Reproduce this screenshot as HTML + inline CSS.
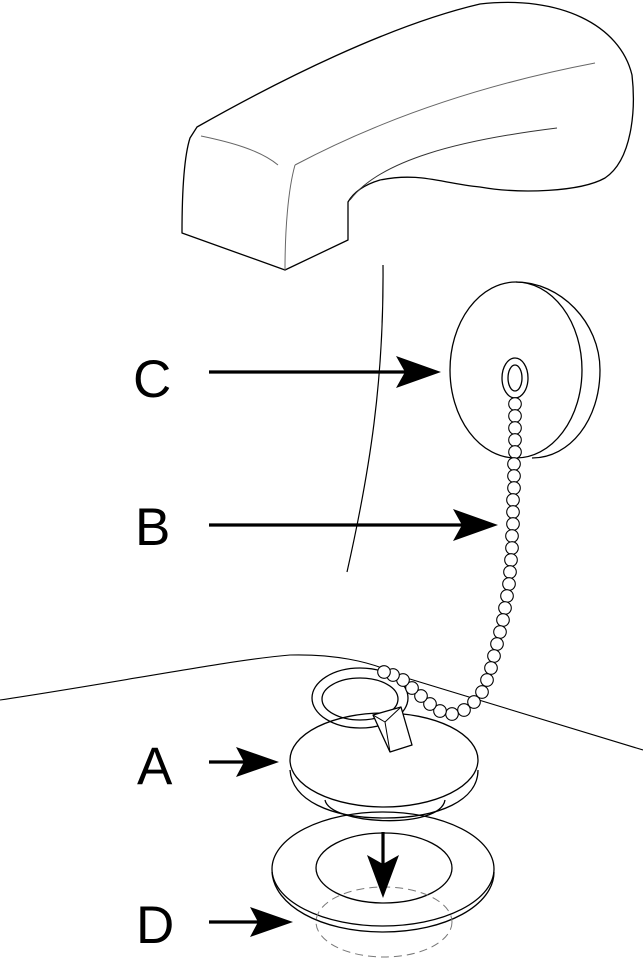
<!DOCTYPE html>
<html><head><style>
html,body{margin:0;padding:0;background:#fff;}
svg{display:block;}
text{font-family:"Liberation Sans",sans-serif;font-size:53px;fill:#000;}
</style></head><body>
<svg width="643" height="960" viewBox="0 0 643 960" xmlns="http://www.w3.org/2000/svg">
<g fill="none" stroke="#000" stroke-width="1.3" stroke-linejoin="round">
<!-- spout -->
<path d="M197,127 C280,80 390,25 480,4 C560,-5 620,25 632,75 C636,110 632,160 605,178 C580,192 520,194 480,187 C440,183 420,172 380,180 C360,186 352,195 348,202 L348,240 L285,270 L182,233 C182,200 183,160 190,138 Z"/>
<path d="M295,165 C288,190 285,230 285,270" stroke="#666" stroke-width="1"/>
<path d="M201,136 C230,142 260,150 278,165" stroke="#666" stroke-width="1"/>
<path d="M295,165 C380,120 480,85 595,63" stroke="#666" stroke-width="1"/>
<path d="M350,200 C380,160 460,140 557,128" stroke="#333" stroke-width="1"/>
<!-- wall -->
<path d="M383,265 C384,380 370,470 347,572" stroke-width="1.2"/>
<!-- basin edge -->
<path d="M0,700 C120,682 230,660 290,655 C330,654 370,660 400,676 L643,750" stroke-width="1.1"/>
<!-- cap C -->
<path d="M516,282 C560,282 600,322 600,370 C600,420 570,458 532,458" />
<ellipse cx="516" cy="370" rx="66" ry="88"/>
<ellipse cx="515" cy="378" rx="13" ry="20"/>
<ellipse cx="515" cy="378" rx="7" ry="13"/>
<!-- stopper -->
<path d="M325,800 C330,825 440,830 445,800"/>
<path d="M290,770 C292,800 330,818 384,818 C440,818 478,800 478,770"/>
<ellipse cx="384" cy="760" rx="94" ry="47" fill="#fff"/>
<ellipse cx="360" cy="698" rx="48" ry="30"/>
<ellipse cx="360" cy="699" rx="38" ry="21"/>
<path d="M373,715 L401,707 L412,745 L390,752 Z" fill="#fff"/>
<path d="M373,715 L385,722 L401,707 M385,722 L390,752" stroke-width="1"/>
<!-- flange D -->
<path d="M272,872 C274,905 320,932 383,932 C446,932 494,905 494,872"/>
<ellipse cx="383" cy="869" rx="111" ry="57"/>
<ellipse cx="384" cy="868" rx="68" ry="35"/>
<ellipse cx="384" cy="922" rx="68" ry="35" stroke="#777" stroke-dasharray="8,5" stroke-width="1"/>
<!-- chain -->
<g fill="#fff" stroke-width="1.1">
<circle cx="515" cy="404" r="6.3"/><circle cx="515" cy="416" r="6.3"/><circle cx="515" cy="428" r="6.3"/><circle cx="515" cy="440" r="6.3"/><circle cx="515" cy="452" r="6.3"/><circle cx="514" cy="464" r="6.3"/><circle cx="514" cy="476" r="6.3"/><circle cx="514" cy="488" r="6.3"/><circle cx="513" cy="500" r="6.3"/><circle cx="513" cy="512" r="6.3"/><circle cx="513" cy="524" r="6.3"/><circle cx="512" cy="536" r="6.3"/><circle cx="512" cy="548" r="6.3"/><circle cx="511" cy="560" r="6.3"/><circle cx="510" cy="572" r="6.3"/><circle cx="509" cy="584" r="6.3"/><circle cx="507" cy="596" r="6.3"/><circle cx="505" cy="608" r="6.3"/><circle cx="503" cy="620" r="6.3"/><circle cx="500" cy="632" r="6.3"/><circle cx="497" cy="644" r="6.3"/><circle cx="494" cy="656" r="6.3"/><circle cx="491" cy="668" r="6.3"/><circle cx="487" cy="680" r="6.3"/><circle cx="482" cy="692" r="6.3"/><circle cx="474" cy="702" r="6.3"/><circle cx="464" cy="710" r="6.3"/><circle cx="452" cy="714" r="6.3"/><circle cx="440" cy="711" r="6.3"/><circle cx="430" cy="704" r="6.3"/><circle cx="421" cy="696" r="6.3"/><circle cx="412" cy="688" r="6.3"/><circle cx="403" cy="680" r="6.3"/><circle cx="393" cy="675" r="6.3"/><circle cx="384" cy="672" r="6.3"/>
</g>
</g>
<!-- arrows -->
<g stroke="#000" stroke-width="3.2">
<line x1="209" y1="372" x2="410" y2="372"/>
<line x1="209" y1="525" x2="467" y2="525"/>
<line x1="209" y1="762" x2="250" y2="762"/>
<line x1="209" y1="922" x2="262" y2="922"/>
<line x1="383" y1="832" x2="383" y2="870"/>
</g>
<g fill="#000">
<path d="M441,372 L396,356 L405,372 L396,388 Z"/>
<path d="M498,525 L453,509 L462,525 L453,541 Z"/>
<path d="M279,762 L236,747 L244,762 L236,777 Z"/>
<path d="M293,922 L250,907 L258,922 L250,937 Z"/>
<path d="M383,898 L367,855 L383,864 L399,855 Z"/>
</g>
<text x="133" y="397">C</text>
<text x="135" y="545">B</text>
<text x="137" y="784">A</text>
<text x="136" y="943">D</text>
</svg>
</body></html>
